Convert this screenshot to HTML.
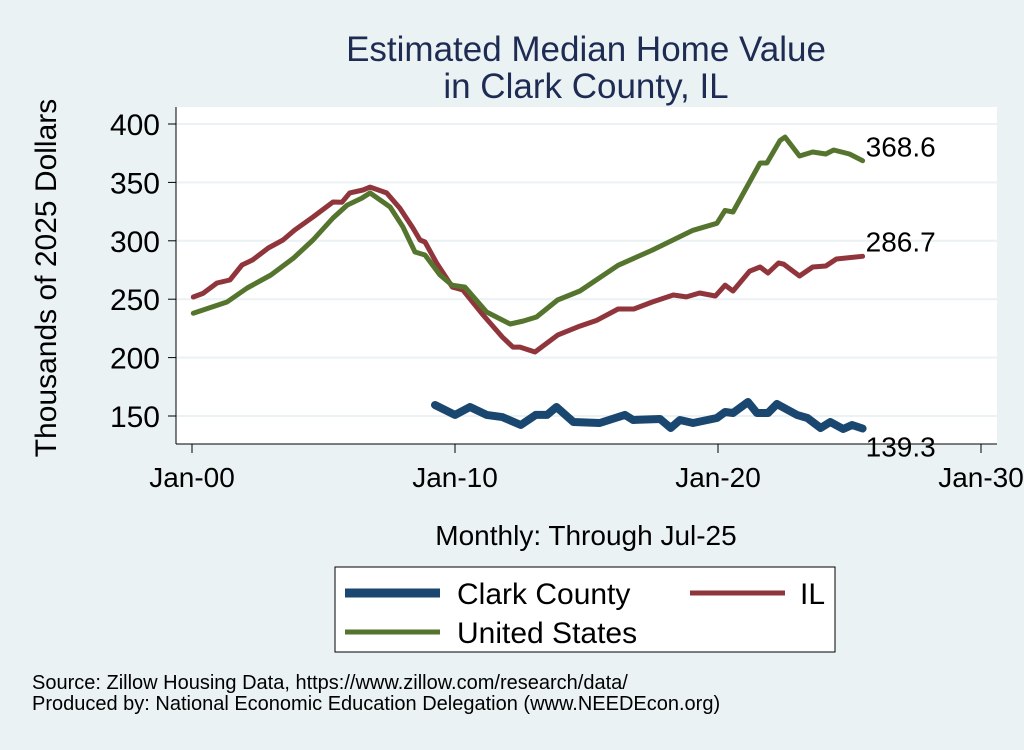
<!DOCTYPE html>
<html><head><meta charset="utf-8"><style>
body{margin:0;background:#eaf2f3;font-family:"Liberation Sans",sans-serif;}
</style></head><body>
<svg id="chart" width="1024" height="745" xmlns="http://www.w3.org/2000/svg">
<rect width="1024" height="745" fill="#eaf2f3"/>
<text x="586" y="61" font-size="35" fill="#1e2c54" text-anchor="middle">Estimated Median Home Value</text>
<text x="586" y="98" font-size="35" fill="#1e2c54" text-anchor="middle">in Clark County, IL</text>
<rect x="176" y="107" width="821" height="337" fill="#ffffff"/>
<g id="grid"></g><g id="axes"></g><g id="series"></g>
<text x="56" y="278" font-size="30" fill="#000" text-anchor="middle" transform="rotate(-90 56 278)">Thousands of 2025 Dollars</text>
<text x="586" y="545" font-size="28" fill="#000" text-anchor="middle">Monthly: Through Jul-25</text>
<g>
<rect x="335" y="567" width="500" height="85" fill="#fff" stroke="#000" stroke-width="1"/>
<g><line x1="345" y1="593" x2="440" y2="593" stroke="#1a476f" stroke-width="9"/><text x="457" y="604" font-size="30">Clark County</text></g>
<g><line x1="690" y1="593" x2="785" y2="593" stroke="#90353b" stroke-width="5"/><text x="800" y="604" font-size="30">IL</text></g>
<g><line x1="345" y1="632" x2="440" y2="632" stroke="#55752f" stroke-width="5"/><text x="457" y="643" font-size="30">United States</text></g>
</g>
<text x="32" y="689" font-size="20">Source: Zillow Housing Data, https://www.zillow.com/research/data/</text>
<text x="32" y="710" font-size="20">Produced by: National Economic Education Delegation (www.NEEDEcon.org)</text>
</svg>
<script>
const yTicks=[150,200,250,300,350,400];
const xTickYears=[0,10,20,30];
const xTickLabels=["Jan-00","Jan-10","Jan-20","Jan-30"];
const usYears=[0.05,1.33,2.1,3.0,3.85,4.6,5.36,5.9,6.46,6.77,7.53,8.02,8.48,8.86,9.43,9.89,10.38,11.2,12.1,12.6,13.1,13.9,14.75,16.2,17.5,19.05,19.96,20.27,20.57,21.6,21.86,22.36,22.55,23.1,23.6,24.1,24.4,25.0,25.5];
const usValues=[238,247.6,259.6,270.7,285,300.7,319.5,330.6,336.6,341,329,312,290.4,287.8,270.7,262,260.4,239,228.8,231.3,234.8,249.3,257,279,292,309,315,326,324.7,366.6,366.6,386,388.8,372.6,376,374.3,377.7,374.3,368.6];
const ilYears=[0.05,0.42,0.95,1.44,1.9,2.3,2.9,3.46,3.9,4.6,5.36,5.7,6.0,6.5,6.77,7.4,7.9,8.4,8.67,8.86,9.3,9.9,10.3,11.07,11.8,12.2,12.47,13.04,13.9,14.75,15.4,16.2,16.8,17.5,18.3,18.8,19.3,19.9,20.27,20.57,21.2,21.6,21.9,22.3,22.5,23.1,23.6,24.1,24.5,25.5];
const ilValues=[251.9,255,263.9,266.4,279.3,283.6,293.8,300.7,309.2,320.4,333.2,333,341,343.5,346,341,328,311,300.7,299,281,260.4,257.9,236.5,217.6,209,209,204.8,219.3,227,232,241.6,241.6,247.6,253.6,252,255.3,252.7,262,257,274,277.6,272.4,281,280,269.9,277.6,278.4,284.4,286.7];
const clarkYears=[9.24,10.0,10.57,11.2,11.8,12.5,13.07,13.5,13.86,14.5,15.5,16.46,16.77,17.8,18.2,18.55,19.05,19.96,20.27,20.57,21.14,21.48,21.9,22.24,23.0,23.4,23.9,24.27,24.76,25.1,25.5];
const clarkValues=[159.4,150.9,157.7,150.9,149.1,142.3,150.9,150.9,157.7,144.9,144,150.9,146.6,147.4,139.7,146.6,144,148.3,153.4,152.6,162,152.6,152.6,160.3,150.9,148.3,139.7,144.9,138.9,142.3,139.3];
const NS="http://www.w3.org/2000/svg";
const xs=t=>192+t*26.3;
const ys=v=>416-(v-150)*58.4/50;
function mk(tag,attrs,parent){const e=document.createElementNS(NS,tag);for(const k in attrs)e.setAttribute(k,attrs[k]);document.getElementById(parent).appendChild(e);return e;}
yTicks.forEach(v=>{
 const g=mk('line',{x1:176,x2:997,y1:ys(v),y2:ys(v),stroke:'#eaf2f3','stroke-width':2},'grid');
 
 
 const t=mk('line',{x1:168,x2:176,y1:ys(v),y2:ys(v),stroke:'#000','stroke-width':1},'axes');
 
 
 const l=mk('text',{x:160,y:ys(v)+11,'font-size':30,'text-anchor':'end'},'axes');l.textContent=v;
 
 
});
const ya=mk('line',{x1:176,x2:176,y1:107,y2:444,stroke:'#000','stroke-width':1},'axes');


const xa=mk('line',{x1:176,x2:997,y1:444,y2:444,stroke:'#000','stroke-width':1},'axes');


xTickYears.forEach((t,i)=>{
 const k=mk('line',{x1:xs(t),x2:xs(t),y1:444,y2:453,stroke:'#000','stroke-width':1},'axes');
 
 
 const l=mk('text',{x:xs(t),y:487,'font-size':28,'text-anchor':'middle'},'axes');l.textContent=xTickLabels[i];
 
 
});
function line(years,vals,color,w,name){
 const d=years.map((t,i)=>(i?'L':'M')+xs(t).toFixed(1)+','+ys(vals[i]).toFixed(1)).join('');
 const p=mk('path',{d:d,fill:'none',stroke:color,'stroke-width':w,'stroke-linejoin':'round','stroke-linecap':'round'},'series');
 
 
}
line(ilYears,ilValues,'#90353b',5,'il-line');
line(usYears,usValues,'#55752f',5,'us-line');
line(clarkYears,clarkValues,'#1a476f',8,'clark-county-line');
function endLabel(years,vals,dy,name){
 const n=years.length-1;
 const l=mk('text',{x:xs(years[n])+3,y:ys(vals[n])+dy,'font-size':28},'series');
 l.textContent=vals[n].toFixed(1);
 
 
}
endLabel(usYears,usValues,-4,'us-end-label');
endLabel(ilYears,ilValues,-5,'il-end-label');
endLabel(clarkYears,clarkValues,28,'clark-end-label');
</script>
</body></html>
